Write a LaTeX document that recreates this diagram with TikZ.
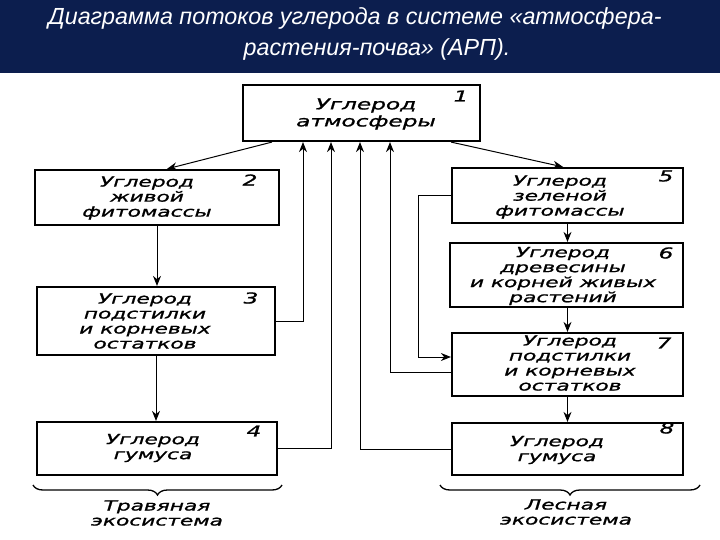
\documentclass[tikz,border=0pt]{standalone}
\usepackage{fontspec}
\setmainfont{Liberation Sans}
\newfontfamily\hw{DejaVu Sans}[FakeStretch=1.55,FakeBold=1.2]
\usetikzlibrary{arrows.meta,decorations.pathreplacing}
\definecolor{navy}{RGB}{12,30,78}
\begin{document}
\begin{tikzpicture}[x=1pt,y=-1pt,
  box/.style={draw, line width=2.2pt, inner sep=0pt},
  txt/.style={font=\hw\itshape\fontsize{14}{15}\selectfont, align=center, inner sep=0pt},
  bigtxt/.style={font=\hw\itshape\fontsize{15}{17}\selectfont, align=center, inner sep=0pt},
  num/.style={font=\hw\itshape\fontsize{15}{15}\selectfont, inner sep=0pt},
  arr/.style={line width=1pt, -{Stealth[length=10pt,width=8pt]}},
  brc/.style={decorate, decoration={brace, amplitude=10pt}, line width=1.3pt},
  ttl/.style={font=\itshape\fontsize{23.3}{26}\selectfont, text=white, anchor=base, inner sep=0pt}]
\useasboundingbox (0,0) rectangle (720,540);
\fill[navy] (0,0) rectangle (720,73);
\node[ttl] (title1) at (355,25) {Диаграмма потоков углерода в системе «атмосфера-};
\node[ttl] (title2) at (377,56) {растения-почва» (АРП).};

% boxes
\node[box, minimum width=237pt, minimum height=56pt] (b1) at (361.5,113) {};
\node[box, minimum width=244pt, minimum height=55pt] (b2) at (157,197.5) {};
\node[box, minimum width=238pt, minimum height=68pt] (b3) at (156,321) {};
\node[box, minimum width=240pt, minimum height=53pt] (b4) at (157,448.5) {};
\node[box, minimum width=231pt, minimum height=55pt] (b5) at (567.5,195.5) {};
\node[box, minimum width=233pt, minimum height=64pt] (b6) at (566.5,275) {};
\node[box, minimum width=231pt, minimum height=63pt] (b7) at (567.5,364.5) {};
\node[box, minimum width=231pt, minimum height=52pt] (b8) at (567.5,449) {};

% texts
\node[bigtxt] (t1) at (366,114) {Углерод\\атмосферы};
\node[txt] (t2) at (147,198) {Углерод\\живой\\фитомассы};
\node[txt] (t3) at (145,321) {Углерод\\подстилки\\и корневых\\остатков};
\node[txt] (t4) at (153,448) {Углерод\\гумуса};
\node[txt] (t5) at (560,197) {Углерод\\зеленой\\фитомассы};
\node[txt] (t6) at (563,276) {Углерод\\древесины\\и корней живых\\растений};
\node[txt] (t7) at (570,363) {Углерод\\подстилки\\и корневых\\остатков};
\node[txt] (t8) at (557,450) {Углерод\\гумуса};

% numbers
\node[num] (n1) at (461,96) {1};
\node[num] (n2) at (250,180) {2};
\node[num] (n3) at (251,298) {3};
\node[num] (n4) at (254,431) {4};
\node[num] (n5) at (666,176) {5};
\node[num] (n6) at (666,253) {6};
\node[num] (n7) at (664,343) {7};
\node[num] (n8) at (667,428) {8};

% connectors
\draw[arr] ([xshift=30pt]b1.south west) -- ([xshift=10pt]b2.north);
\draw[arr] ([xshift=-30pt]b1.south east) -- ([xshift=-4.5pt]b5.north);
\draw[arr] (b2.south) -- (b2.south |- b3.north);
\draw[arr] (b3.south) -- (b3.south |- b4.north);
\draw[arr] (b5.south) -- (b5.south |- b6.north);
\draw[arr] (b6.south -| b5.south) -- (b5.south |- b7.north);
\draw[arr] (b7.south -| b5.south) -- (b5.south |- b8.north);
\draw[arr] (b3.east) -| ([xshift=-58.5pt]b1.south);
\draw[arr] (b4.east) -| ([xshift=-30.5pt]b1.south);
\draw[arr] (b8.west) -| ([xshift=-1.5pt]b1.south);
\draw[arr] ([yshift=-7.5pt]b7.west) -| ([xshift=28.5pt]b1.south);
\draw[arr] (b5.west) -- ++(-32,0) |- ([yshift=7.5pt]b7.west);

% braces
\draw[brc] (282,485) -- (33,485);
\draw[brc] (700,485) -- (440,485);
\node[txt] (e1) at (157,513) {Травяная\\экосистема};
\node[txt] (e2) at (566,512) {Лесная\\экосистема};
\end{tikzpicture}
\end{document}
